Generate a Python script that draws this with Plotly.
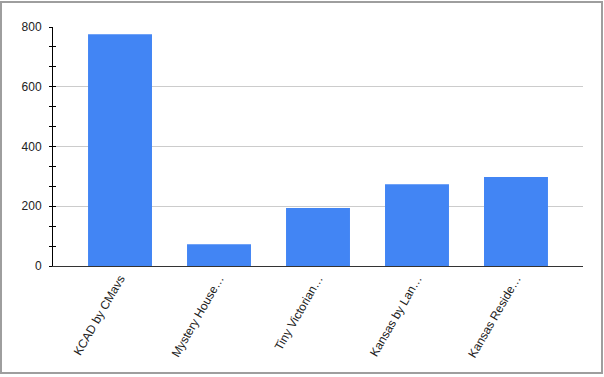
import plotly.graph_objects as go

categories = ["KCAD by CMavs", "Mystery House…", "Tiny Victorian…", "Kansas by Lan…", "Kansas Reside…"]
values = [776, 73, 194, 274, 298]
y_ticks = [0, 200, 400, 600, 800]

fig = go.Figure()
fig.add_trace(go.Bar(x=categories, y=values, marker_color="#4285f4", width=0.646,
                     marker_line_width=0))
# invisible trace for the inside-tick overlay axis
fig.add_trace(go.Scatter(x=[categories[0]], y=[0], yaxis="y2", mode="markers",
                         marker_opacity=0, showlegend=False, hoverinfo="skip"))

font = dict(family="Liberation Sans, Arial, sans-serif", size=12, color="#222222")

fig.update_layout(
    width=604, height=377,
    margin=dict(l=53, r=21, t=27, b=111),
    paper_bgcolor="white", plot_bgcolor="white",
    showlegend=False, bargap=0.35,
    font=font,
    xaxis=dict(range=[-0.677, 4.677], tickangle=-60, showgrid=False,
               showline=True, linecolor="#333333", linewidth=1, ticks="",
               tickfont=font, fixedrange=True),
    yaxis=dict(range=[0, 800], tickvals=y_ticks, showgrid=True, gridcolor="#cccccc",
               gridwidth=1, showline=True, linecolor="#000000", linewidth=1,
               ticks="outside", ticklen=0, tickcolor="#000000",
               ticklabelstandoff=8, zeroline=False, tickfont=font,
               minor=dict(dtick=200/3, tick0=0, ticks="outside", ticklen=3,
                          tickcolor="#000000", tickwidth=1, showgrid=False)),
    yaxis2=dict(range=[0, 800], overlaying="y", side="left", showgrid=False,
                showticklabels=False, tickvals=y_ticks, ticks="inside", ticklen=0,
                zeroline=False, showline=False,
                minor=dict(dtick=200/3, tick0=0, ticks="inside", ticklen=3,
                           tickcolor="#000000", tickwidth=1, showgrid=False)),
    shapes=[dict(type="rect", xref="paper", yref="paper", x0=-52/530, x1=(602-53)/530,
                 y0=(266-373)/239, y1=(266-2)/239,
                 line=dict(color="#9e9e9e", width=2), fillcolor="rgba(0,0,0,0)", layer="below")],
)

fig.write_html("out.html")
